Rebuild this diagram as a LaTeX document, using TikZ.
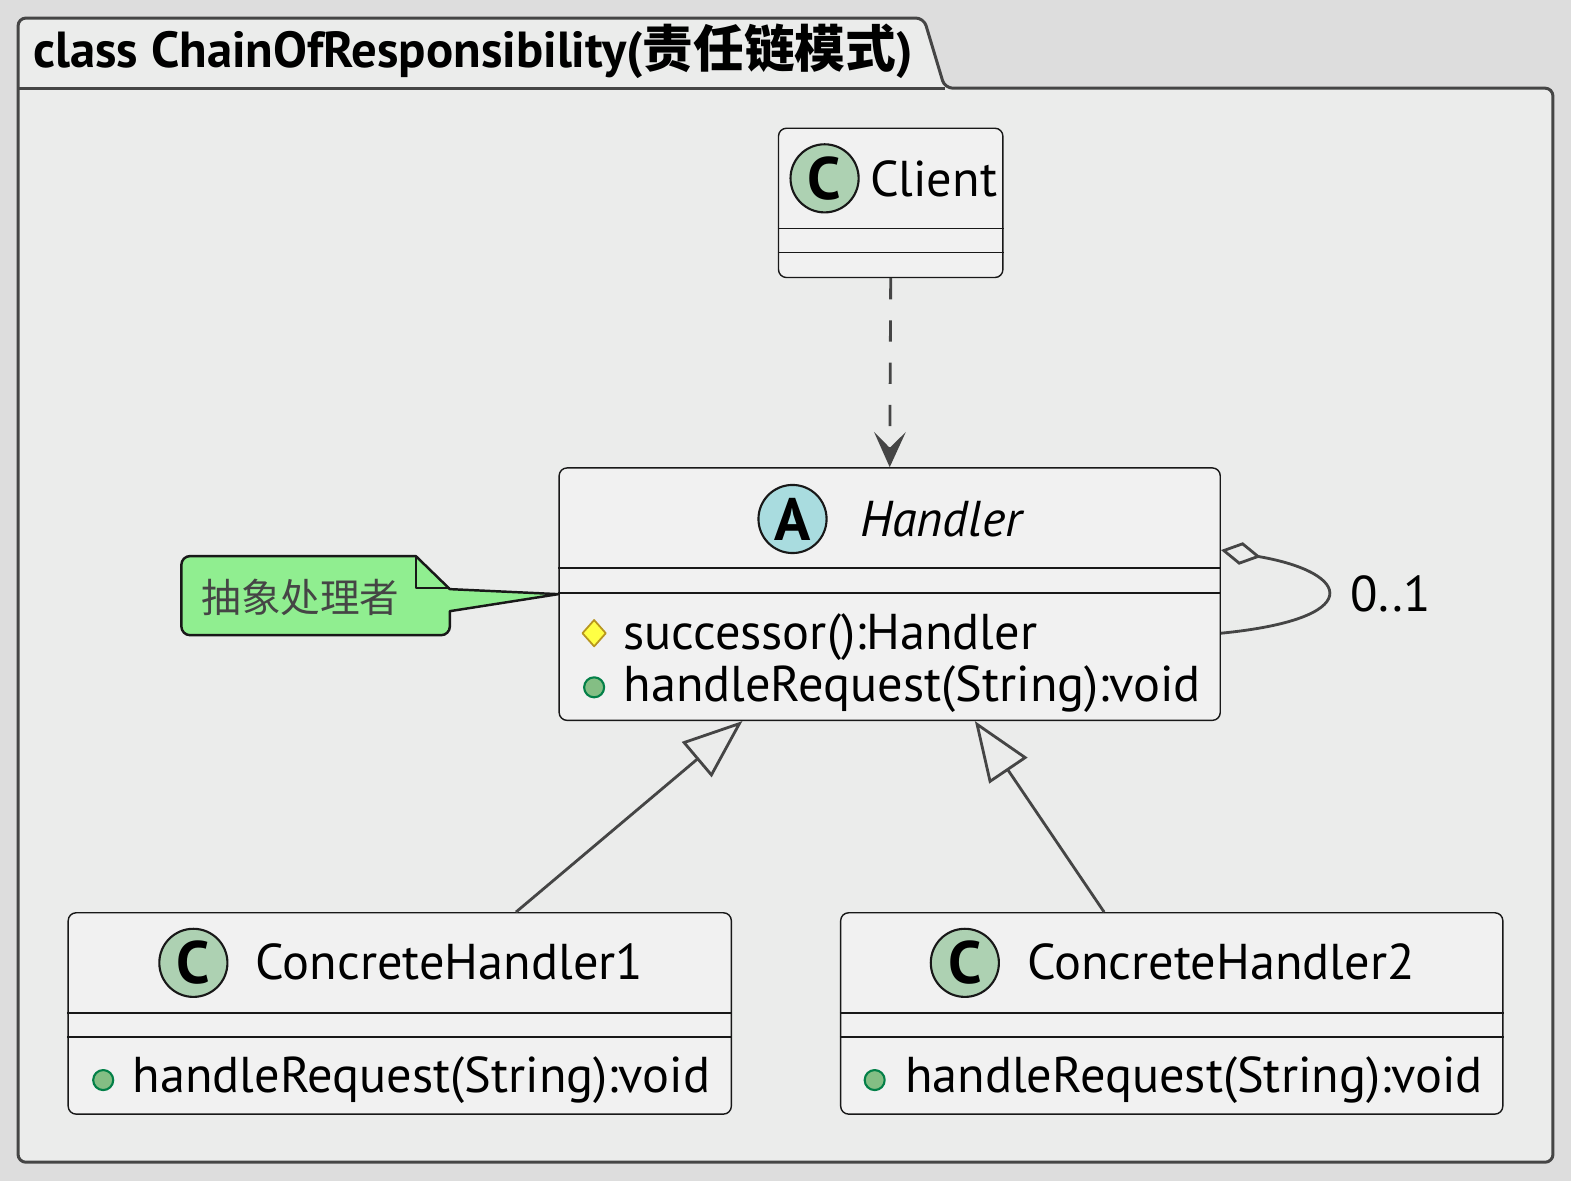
\documentclass[tikz,border=0pt]{standalone}
\usepackage{fontspec}
\setmainfont{PT Sans}
\newfontfamily\cjk{Noto Sans CJK SC}
\usetikzlibrary{positioning,arrows.meta,shapes.geometric}

\definecolor{pagebg}{HTML}{DDDDDD}
\definecolor{pkgbg}{HTML}{EBECEB}
\definecolor{classbg}{HTML}{F1F1F1}
\definecolor{linegray}{HTML}{454545}
\definecolor{boxline}{HTML}{181818}
\definecolor{spotgreen}{HTML}{ADD1B2}
\definecolor{spotcyan}{HTML}{A9DCDF}
\definecolor{notegreen}{HTML}{90EE90}
\definecolor{protyellow}{HTML}{FFFF44}
\definecolor{protborder}{HTML}{B8961E}
\definecolor{pubgreen}{HTML}{84BE84}
\definecolor{pubborder}{HTML}{038048}

\tikzset{
  pkgframe/.style={draw=linegray, line width=1.7pt, rounded corners=4.5pt},
  classbox/.style={draw=boxline, fill=classbg, line width=0.8pt, rounded corners=4.5pt, inner sep=0pt},
  sepline/.style={draw=boxline, line width=0.8pt},
  spot/.style={circle, draw=boxline, line width=1.2pt, minimum size=1.36cm, inner sep=0pt,
    font=\fontsize{34}{34}\selectfont\bfseries},
  nametext/.style={anchor=base west, inner sep=0pt, font=\fontsize{28.6}{28.6}\selectfont},
  member/.style={anchor=base west, inner sep=0pt, font=\fontsize{28.6}{28.6}\selectfont},
  protmark/.style={diamond, draw=protborder, fill=protyellow, line width=1pt, aspect=0.9,
    minimum width=0.48cm, minimum height=0.54cm, inner sep=0pt},
  pubmark/.style={circle, draw=pubborder, fill=pubgreen, line width=1.2pt, minimum size=0.4cm, inner sep=0pt},
  notebox/.style={draw=boxline, fill=notegreen, line width=1.4pt},
  depend/.style={draw=linegray, line width=1.6pt, dash pattern=on 12pt off 12pt,
    -{Stealth[length=20pt, width=18pt, inset=9pt]}},
  inherit/.style={draw=linegray, line width=1.6pt, -{Triangle[open, length=34pt, width=26pt, fill=pkgbg]}},
  aggself/.style={draw=linegray, line width=1.6pt, -{Diamond[open, length=23pt, width=13pt, fill=pkgbg]}}
}

\begin{document}
\begin{tikzpicture}[x=0.02cm, y=-0.02cm, line join=round]
  % page and package frame
  \fill[pagebg] (0,0) rectangle (1568,1179);
  \useasboundingbox (0,0) rectangle (1568,1179);
  \filldraw[pkgframe, fill=pkgbg] (18,88) -- (18,18) -- (922,18) -- (943,88) -- (1550,88)
    -- (1550,1160) -- (18,1160) -- cycle;
  \draw[pkgframe] (18,88) -- (943,88);
  \node[anchor=base west, inner sep=0pt, font=\fontsize{28.8}{28.8}\selectfont\bfseries] (title) at (33,67)
    {class ChainOfResponsibility({\cjk\bfseries 责任链模式})};

  % classes
  \node[classbox, minimum width=4.48cm, minimum height=2.98cm] (client) at (889,202.5) {};
  \node[classbox, minimum width=13.2cm, minimum height=5.04cm] (handler) at (888,593) {};
  \node[classbox, minimum width=13.24cm, minimum height=4.02cm] (ch1) at (399,1011.5) {};
  \node[classbox, minimum width=13.22cm, minimum height=4.02cm] (ch2) at (1169.5,1011.5) {};
  \foreach \n/\ya/\yb in {client/228/252, handler/567/592, ch1/1011/1035, ch2/1011/1035} {
    \draw[sepline] (\n.west |- 0,\ya) -- (\n.east |- 0,\ya);
    \draw[sepline] (\n.west |- 0,\yb) -- (\n.east |- 0,\yb);
  }

  % class headers
  \node[spot, fill=spotgreen] (clientspot) at (823,178) {C};
  \node[nametext] (clientname) at (868,196) {Client};
  \node[spot, fill=spotcyan] (handlerspot) at (791,518) {A};
  \node[nametext] (handlername) at (858,535) {\itshape Handler};
  \node[spot, fill=spotgreen] (ch1spot) at (193,961) {C};
  \node[nametext] (ch1name) at (255,978) {ConcreteHandler1};
  \node[spot, fill=spotgreen] (ch2spot) at (963,961) {C};
  \node[nametext] (ch2name) at (1025,978) {ConcreteHandler2};

  % members
  \node[protmark] (succmark) at (593,632) {};
  \node[member] (succ) at (622,648) {successor():Handler};
  \node[pubmark] (hreqmark) at (593,686) {};
  \node[member] (hreq) at (622,700) {handleRequest(String):void};
  \node[pubmark] (ch1reqmark) at (103,1078) {};
  \node[member] (ch1req) at (132,1090) {handleRequest(String):void};
  \node[pubmark] (ch2reqmark) at (873,1078) {};
  \node[member] (ch2req) at (903,1090) {handleRequest(String):void};

  % note
  \draw[notebox] (415,555) -- (449,588) -- (handler.west) -- (449,610) [rounded corners=5pt]
    -- (449,634) -- (181,634) -- (181,555) [sharp corners] -- cycle;
  \draw[notebox, fill=none] (415,555) -- (415,587) -- (449,587);
  \node[font=\cjk\fontsize{22.5}{22.5}\selectfont, text=linegray, inner sep=0pt] (note) at (300,596) {抽象处理者};

  % relations
  \draw[depend] (client.south) -- (handler.north);
  \draw[inherit] (ch1.north -| 515,0) -- (handler.south -| 741,0);
  \draw[inherit] (ch2.north -| 1102,0) -- (handler.south -| 973,0);
  \draw[aggself] (handler.east |- 0,632) .. controls (1362,618) and (1352,572) .. (handler.east |- 0,549);
  \node[nametext] (mult) at (1348,610) {0..1};
\end{tikzpicture}
\end{document}
